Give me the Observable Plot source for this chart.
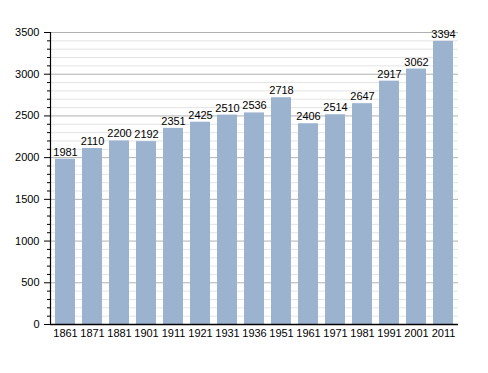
<!DOCTYPE html>
<html><head><meta charset="utf-8">
<script src="https://cdn.jsdelivr.net/npm/d3@7"></script>
<script src="https://cdn.jsdelivr.net/npm/@observablehq/plot@0.6"></script>
<style>body{margin:0;background:#fff}</style>
</head><body><div id="chart"></div>
<script>
const years = ["1861","1871","1881","1901","1911","1921","1931","1936","1951","1961","1971","1981","1991","2001","2011"];
const population = [1981,2110,2200,2192,2351,2425,2510,2536,2718,2406,2514,2647,2917,3062,3394];
const majorTicks = [0,500,1000,1500,2000,2500,3000,3500];
const minorTicks = d3.range(0, 3501, 100).filter(v => v % 500 !== 0);

const data = years.map((y, i) => ({year: y, value: population[i]}));

const chart = Plot.plot({
  width: 488, height: 373,
  marginLeft: 50, marginRight: 30, marginTop: 32, marginBottom: 49,
  style: {fontFamily: "Liberation Sans, Arial, sans-serif", fontSize: "11px", color: "#000", background: "#fff"},
  x: {domain: years, paddingInner: 0.26, paddingOuter: 0.04, label: null, tickSize: 0},
  y: {domain: [0, 3500], label: null},
  marks: [
    Plot.ruleY(minorTicks, {stroke: "#e4e4e4", strokeWidth: 1}),
    Plot.ruleY(majorTicks.filter(d => d > 0), {stroke: "#b0b0b0", strokeWidth: 1}),
    Plot.barY(data, {x: "year", y: "value", fill: "#9bb3cf"}),
    Plot.text(data, {x: "year", y: "value", text: d => String(d.value), dy: -7, fill: "#000", fontSize: 11}),
    Plot.axisY(minorTicks, {tickSize: 3, text: null, stroke: "#000"}),
    Plot.axisY(majorTicks, {tickSize: 6, tickPadding: 5, stroke: "#000", fontSize: 11, label: null, tickFormat: d3.format("d")}),
    Plot.axisX({tickSize: 0, tickPadding: 5, fontSize: 11, label: null}),
    Plot.frame({anchor: "left", stroke: "#000", strokeWidth: 1.2}),
    Plot.ruleY([0], {stroke: "#000", strokeWidth: 1.5})
  ]
});
document.getElementById("chart").appendChild(chart);
</script></body></html>
